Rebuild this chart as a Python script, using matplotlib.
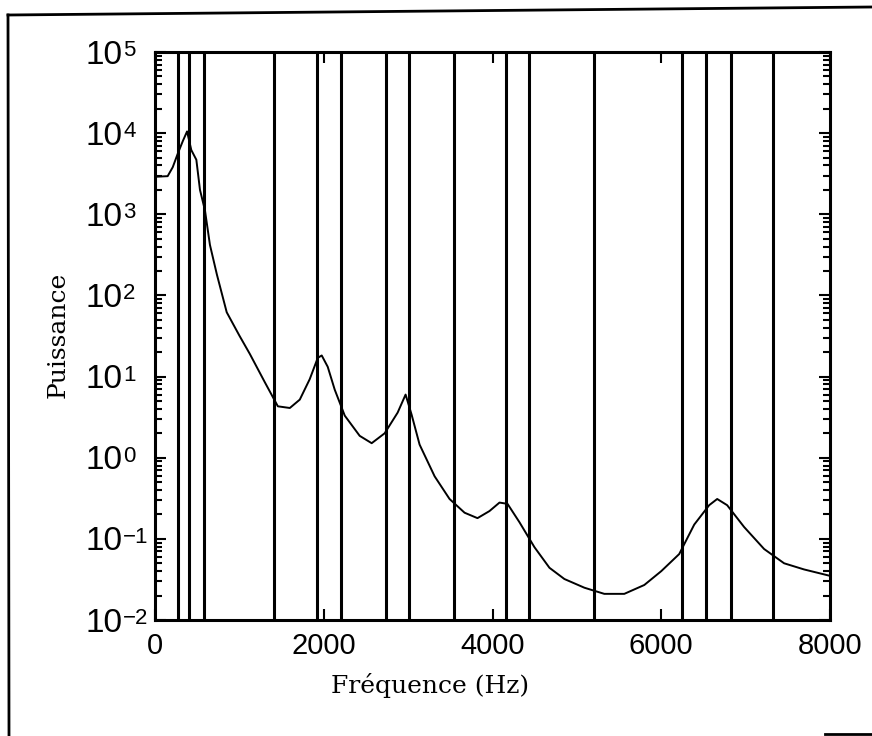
import matplotlib
matplotlib.use("Agg")
import matplotlib.pyplot as plt
from matplotlib.lines import Line2D
from matplotlib.ticker import FixedLocator, LogLocator, NullFormatter

# power spectrum (Hz, power)
freq = [0, 150, 210, 270, 330, 380, 430, 490, 533, 592, 651, 734, 850,
        1000, 1124, 1302, 1456, 1598, 1716, 1834, 1929, 1976, 2047, 2130, 2249,
        2426, 2568, 2722, 2876, 2970, 3041, 3136, 3314, 3491, 3669, 3822, 3964,
        4083, 4178, 4320, 4497, 4675, 4852, 5089, 5325, 5562, 5799, 6000, 6213,
        6391, 6568, 6663, 6781, 6982, 7219, 7456, 7692, 8000]
power = [2900, 2950, 3800, 5600, 8000, 10500, 6200, 4700, 2000, 1120, 420,
         180, 62, 32, 19, 8.5, 4.3, 4.1, 5.2, 9.3, 17, 18.2, 13.2, 6.9,
         3.3, 1.86, 1.51, 2.0, 3.6, 6.0, 3.4, 1.45, 0.59, 0.31, 0.21, 0.18,
         0.22, 0.28, 0.27, 0.16, 0.079, 0.044, 0.032, 0.025, 0.021, 0.021,
         0.027, 0.040, 0.065, 0.15, 0.26, 0.31, 0.26, 0.14, 0.075, 0.050,
         0.042, 0.035]

# band limits (Hz)
bands = [272, 400, 585, 1410, 1925, 2210, 2740, 3010, 3540, 4155, 4430,
         5200, 6250, 6530, 6825, 7330]

xticks = [0, 2000, 4000, 6000, 8000]
yexp = [-2, -1, 0, 1, 2, 3, 4, 5]

sans = ['Liberation Sans', 'DejaVu Sans']

W, H = 872, 736
fig = plt.figure(figsize=(W / 100, H / 100), dpi=100)
ax = fig.add_axes([155 / W, (H - 620) / H, 675 / W, 568 / H])

for b in bands:
    ax.axvline(b, color='black', lw=2.2)
ax.plot(freq, power, color='black', lw=1.4)

ax.set_yscale('log')
ax.set_xlim(0, 8000)
ax.set_ylim(1e-2, 1e5)

ax.xaxis.set_major_locator(FixedLocator(xticks))
ax.set_xticklabels([str(t) for t in xticks], fontfamily=sans, fontsize=21)
ax.yaxis.set_major_locator(FixedLocator([10.0 ** e for e in yexp]))
ax.yaxis.set_major_formatter(NullFormatter())
ax.yaxis.set_minor_locator(LogLocator(base=10, subs=range(2, 10), numticks=20))
ax.yaxis.set_minor_formatter(NullFormatter())

# y labels: "10" with a raised exponent
for e in yexp:
    ax.annotate('10', xy=(0, 10.0 ** e), xycoords=('axes fraction', 'data'),
                xytext=(-70, -3), textcoords='offset pixels',
                ha='left', va='center', fontsize=24, family=sans)
    ax.annotate(str(e).replace('-', '\u2212'), xy=(0, 10.0 ** e),
                xycoords=('axes fraction', 'data'),
                xytext=(-32, 12), textcoords='offset pixels',
                ha='left', va='top', fontsize=16, family=sans)

ax.tick_params(which='both', direction='in', top=True, right=True, width=1.5)
ax.tick_params(which='major', length=8)
ax.tick_params(which='minor', length=5)
ax.tick_params(axis='x', pad=9)
for s in ax.spines.values():
    s.set_linewidth(2.2)

fig.text(430 / W, 1 - 685 / H, 'Fréquence (Hz)', family='DejaVu Serif',
         fontsize=18, ha='center', va='center')
fig.text(58 / W, 1 - 335 / H, 'Puissance', family='DejaVu Serif',
         fontsize=18, rotation=90, ha='center', va='center')


# outer frame
def px_line(x0, y0, x1, y1):
    fig.add_artist(Line2D([x0 / W, x1 / W], [1 - y0 / H, 1 - y1 / H],
                          color='black', lw=2))


px_line(8, 15, 872, 7)
px_line(8, 15, 9, 736)
px_line(825, 734, 872, 734)

fig.savefig('out.png', dpi=100)
